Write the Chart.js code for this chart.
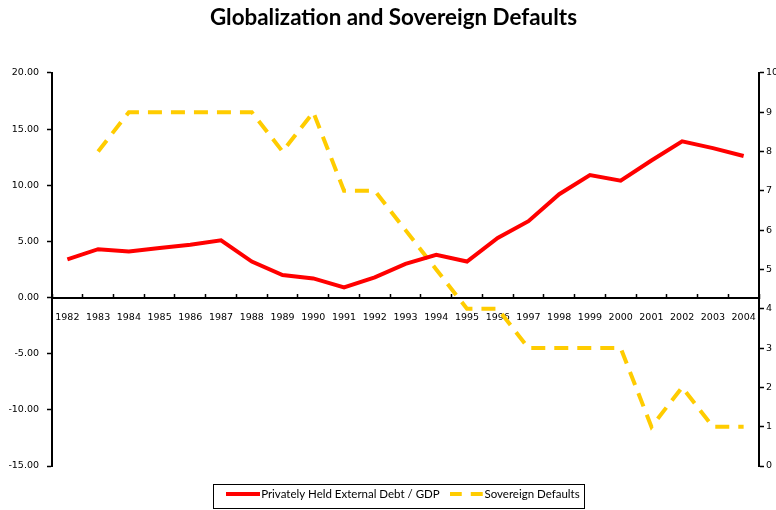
<!DOCTYPE html>
<html>
<head>
<meta charset="utf-8">
<script src="https://cdn.jsdelivr.net/npm/chart.js@4/dist/chart.umd.min.js"></script>
<style>
  html, body { margin: 0; padding: 0; background: #fff; }
  #wrap { width: 776px; height: 510px; }
</style>
</head>
<body>
<div id="wrap"><canvas id="chart"></canvas></div>
<script>
var years = ["1982","1983","1984","1985","1986","1987","1988","1989","1990","1991","1992",
  "1993","1994","1995","1996","1997","1998","1999","2000","2001","2002","2003","2004"];
var debtGdp = [3.4,4.3,4.1,4.4,4.7,5.1,3.2,2.0,1.7,0.9,1.8,3.0,3.8,3.2,5.3,6.8,9.2,10.9,10.4,12.2,13.9,13.3,12.6];
var defaults = [null,8,9,9,9,9,9,8,9,7,7,6,5,4,4,3,3,3,3,1,2,1,1];

// little line samples for the legend (point style line ignores dashes)
function sample(color, dash) {
  var c = document.createElement('canvas');
  c.width = 34; c.height = 4;
  var g = c.getContext('2d');
  g.strokeStyle = color;
  g.lineWidth = 4;
  g.setLineDash(dash);
  g.beginPath();
  g.moveTo(0, 2);
  g.lineTo(34, 2);
  g.stroke();
  return c;
}

// box round the legend, like the excel one
var legendBorder = {
  id: 'legendBorder',
  afterDraw: function(chart) {
    var lg = chart.legend;
    if (!lg || !lg.legendHitBoxes.length) return;
    var hb = lg.legendHitBoxes;
    var first = hb[0], last = hb[hb.length - 1];
    var ctx = chart.ctx;
    var cy = first.top + first.height / 2;
    var x0 = Math.round(first.left - 18) + 0.5;
    var x1 = Math.round(last.left + last.width + 4) + 0.5;
    ctx.save();
    ctx.strokeStyle = '#000';
    ctx.lineWidth = 1;
    ctx.strokeRect(x0, Math.round(cy - 10) + 0.5, x1 - x0, 24);
    ctx.restore();
  }
};

var ctx = document.getElementById('chart');
var chart = new Chart(ctx, {
  type: 'line',
  data: {
    labels: years,
    datasets: [{
        label: 'Privately Held External Debt / GDP',
        data: debtGdp,
        yAxisID: 'y',
        borderColor: '#FF0000',
        backgroundColor: '#FF0000',
        borderWidth: 4,
        pointRadius: 0,
        pointStyle: sample('#FF0000', []),
        tension: 0,
        fill: false
      }, {
        label: 'Sovereign Defaults',
        data: defaults,
        yAxisID: 'y2',
        borderColor: '#FFCC00',
        backgroundColor: '#FFCC00',
        borderWidth: 4,
        borderDash: [14, 9],
        pointRadius: 0,
        pointStyle: sample('#FFCC00', [12, 9]),
        tension: 0,
        fill: false
      }
    ]
  },
  options: {
    responsive: true,
    maintainAspectRatio: false,
    animation: false,
    plugins: {
      title: {
        display: true,
        text: '  Globalization and Sovereign Defaults',
        color: '#000',
        font: { family: 'Lato', size: 22.4, weight: 'bold' },
        padding: { top: 4, bottom: 42 }
      },
      legend: {
        position: 'bottom',
        fullSize: false,
        title: { display: true, text: ' ', font: { size: 6.25, lineHeight: 1.2 }, padding: 0 },
        labels: {
          color: '#000',
          font: { family: 'Lato', size: 11.5 },
          usePointStyle: true,
          pointStyleWidth: 24,
          padding: 15
        }
      },
      tooltip: { enabled: false }
    },
    scales: {
      x: {
        type: 'category',
        position: { y: 0 },
        offset: true,
        grid: { offset: true, drawOnChartArea: false, color: '#000', tickLength: -5, tickWidth: 1.5 },
        border: { color: '#000', width: 2 },
        ticks: { color: '#000', autoSkip: false, maxRotation: 0, padding: 19,
          font: { family: 'DejaVu Sans', size: 9.5 } }
      },
      y: {
        position: 'left',
        min: -15, max: 20,
        ticks: { stepSize: 5, color: '#000', padding: 8,
          font: { family: 'DejaVu Sans', size: 9.5 },
          callback: function(v) { return v.toFixed(2); } },
        grid: { drawOnChartArea: false, color: '#000', tickLength: 5, tickWidth: 1.5 },
        border: { color: '#000', width: 2 },
        afterFit: function(s) { s.width = 52; }
      },
      y2: {
        position: 'right',
        min: 0, max: 10,
        ticks: { stepSize: 1, color: '#000', padding: 2,
          font: { family: 'DejaVu Sans', size: 9.5 } },
        grid: { drawOnChartArea: false, color: '#000', tickLength: 5, tickWidth: 1.5 },
        border: { color: '#000', width: 2 },
        afterFit: function(s) { s.width = 17; }
      }
    }
  },
  plugins: [legendBorder]
});
</script>
</body>
</html>
